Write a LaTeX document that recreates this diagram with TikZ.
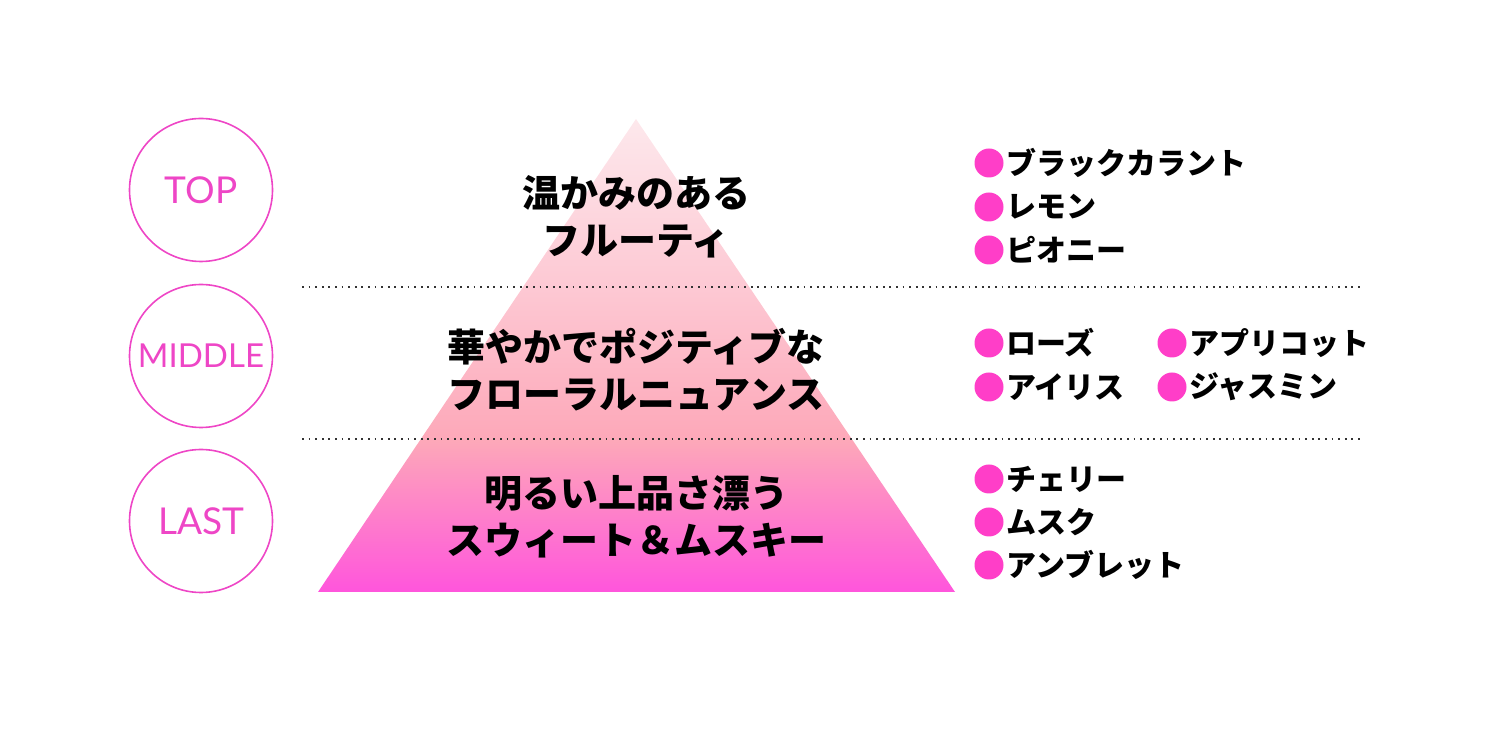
\documentclass[tikz,border=0pt]{standalone}
\usepackage{fontspec}
\setmainfont{Lato}
\newfontfamily\jp{Noto Sans CJK JP}
\usetikzlibrary{positioning}
\definecolor{ringpink}{HTML}{EE46C6}
\definecolor{dotpink}{HTML}{FF3EC8}
\definecolor{toppink}{HTML}{FDE8EC}
\definecolor{upperpink}{HTML}{FDC8D3}
\definecolor{midpink}{HTML}{FDA8B9}
\definecolor{lowpink}{HTML}{FF55DC}
\pgfdeclareverticalshading{pyramidfade}{100bp}{color(0bp)=(lowpink); color(25bp)=(lowpink);
  color(41bp)=(midpink); color(57bp)=(upperpink); color(75bp)=(toppink); color(100bp)=(toppink)}
\tikzset{
  stage/.style={circle, draw=ringpink, line width=0.8pt, minimum size=71.5pt,
    inner sep=0pt, text=ringpink, font=\fontsize{18.5}{18.5}\selectfont},
  desc/.style={align=center, font=\jp\bfseries\fontsize{19}{23.5}\selectfont, inner sep=0pt},
  dot/.style={circle, fill=dotpink, minimum size=14.5pt, inner sep=0pt},
  note/.style={font=\jp\bfseries\fontsize{15}{15}\selectfont, inner sep=0pt, anchor=west},
  sep/.style={line width=0.9pt, draw=black!80, dash pattern=on 0.9pt off 2.4pt}
}
\begin{document}
\begin{tikzpicture}[x=0.5pt, y=-0.5pt]
  \useasboundingbox (0,0) rectangle (1485,731);
  % pyramid
  \shade[shading=pyramidfade] (636,119) -- (955,592) -- (318,592) -- cycle;
  % separators
  \coordinate (s1a) at (302,287); \coordinate (s1b) at (1362,287);
  \coordinate (s2a) at (302,439); \coordinate (s2b) at (1362,439);
  \draw[sep] (s1a) -- (s1b);
  \draw[sep] (s2a) -- (s2b);
  % stages
  \node[stage] (top) at (201,190) {TOP};
  \node[stage, font=\fontsize{16.5}{16.5}\selectfont] (middle) at (201,356) {MIDDLE};
  \node[stage] (last) at (201,521) {LAST};
  % descriptions
  \node[desc] (topdesc) at (636,217) {温かみのある\\フルーティ};
  \node[desc] (middesc) at (636,370) {華やかでポジティブな\\フローラルニュアンス};
  \node[desc] (lastdesc) at (636,517) {明るい上品さ漂う\\スウィート＆ムスキー};
  % notes
  \node[dot] (t1) at (989,163) {};
  \node[note, right=1pt of t1] (t1n) {ブラックカラント};
  \node[dot] (t2) at (989,207) {};
  \node[note, right=1pt of t2] (t2n) {レモン};
  \node[dot] (t3) at (989,250) {};
  \node[note, right=1pt of t3] (t3n) {ピオニー};
  \node[dot] (m1) at (989,343) {};
  \node[note, right=1pt of m1] (m1n) {ローズ};
  \node[dot] (m2) at (989,387) {};
  \node[note, right=1pt of m2] (m2n) {アイリス};
  \node[dot] (m3) at (1172,343) {};
  \node[note, right=1pt of m3] (m3n) {アプリコット};
  \node[dot] (m4) at (1172,387) {};
  \node[note, right=1pt of m4] (m4n) {ジャスミン};
  \node[dot] (l1) at (989,479) {};
  \node[note, right=1pt of l1] (l1n) {チェリー};
  \node[dot] (l2) at (989,522) {};
  \node[note, right=1pt of l2] (l2n) {ムスク};
  \node[dot] (l3) at (989,565) {};
  \node[note, right=1pt of l3] (l3n) {アンブレット};
\end{tikzpicture}
\end{document}
